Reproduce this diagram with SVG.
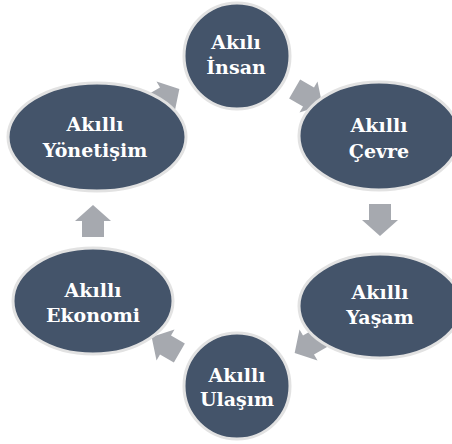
<svg xmlns="http://www.w3.org/2000/svg" width="452" height="444" viewBox="0 0 452 444">
<style>
.node{fill:#44546a;stroke:#e2e2e2;stroke-width:3}
.lbl{font-family:"DejaVu Serif",serif;font-weight:bold;font-size:19px;fill:#ffffff;text-anchor:middle}
.arr{fill:#a6a9af}
</style>
<defs>
<path id="arrow" d="M-11,-16 H11 V0 H18 L0,16 L-18,0 H-11 Z"/>
</defs>
<rect width="452" height="444" fill="#ffffff"/>
<g id="connectors">
<use href="#arrow" class="arr" transform="translate(380,220)"/>
<use href="#arrow" class="arr" transform="translate(308.5,97) rotate(-60)"/>
<use href="#arrow" class="arr" transform="translate(308.5,345) rotate(60)"/>
<use href="#arrow" class="arr" transform="translate(165.5,345) rotate(120)"/>
<use href="#arrow" class="arr" transform="translate(93,221) rotate(180)"/>
<use href="#arrow" class="arr" transform="translate(165.5,97) rotate(240)"/>
</g>
<g id="node-insan">
<circle class="node" cx="237" cy="56" r="53"/>
<text class="lbl" x="236" y="49">Akılı</text>
<text class="lbl" x="236" y="74">İnsan</text>
</g>
<g id="node-cevre">
<ellipse class="node" cx="379" cy="136" rx="80" ry="54"/>
<text class="lbl" x="379" y="132">Akıllı</text>
<text class="lbl" x="379" y="158">Çevre</text>
</g>
<g id="node-yasam">
<ellipse class="node" cx="380" cy="306" rx="81" ry="52"/>
<text class="lbl" x="380" y="299">Akıllı</text>
<text class="lbl" x="380" y="324">Yaşam</text>
</g>
<g id="node-ulasim">
<circle class="node" cx="237" cy="386" r="53"/>
<text class="lbl" x="237" y="382">Akıllı</text>
<text class="lbl" x="237" y="406">Ulaşım</text>
</g>
<g id="node-ekonomi">
<ellipse class="node" cx="93" cy="301" rx="80" ry="53"/>
<text class="lbl" x="93" y="297">Akıllı</text>
<text class="lbl" x="93" y="322">Ekonomi</text>
</g>
<g id="node-yonetisim">
<ellipse class="node" cx="97" cy="137" rx="89" ry="54"/>
<text class="lbl" x="95" y="131">Akıllı</text>
<text class="lbl" x="95" y="157">Yönetişim</text>
</g>
</svg>
